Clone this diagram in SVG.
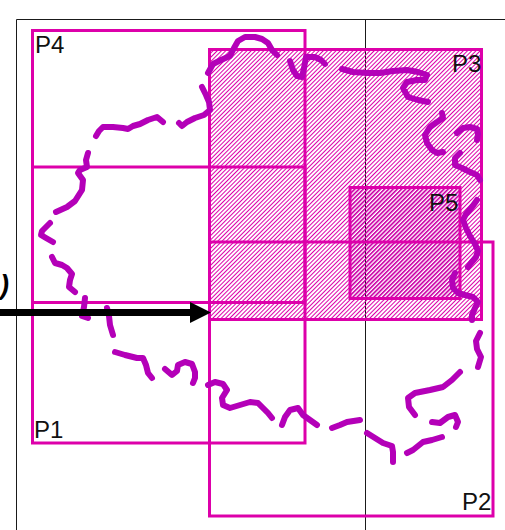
<svg xmlns="http://www.w3.org/2000/svg" width="505" height="530" viewBox="0 0 505 530">
  <defs>
    <pattern id="hatch" patternUnits="userSpaceOnUse" width="3" height="3" patternTransform="rotate(45)">
      <line x1="0.5" y1="0" x2="0.5" y2="3" stroke="#dd00aa" stroke-width="1"/>
    </pattern>
    <pattern id="hatch2" patternUnits="userSpaceOnUse" width="3" height="3" patternTransform="rotate(45)">
      <line x1="0.7" y1="0" x2="0.7" y2="3" stroke="#c800a6" stroke-width="1.4"/>
    </pattern>
    <marker id="arrow" markerUnits="userSpaceOnUse" markerWidth="22" markerHeight="22" refX="0" refY="11" orient="auto">
      <polygon points="0,0.5 21,11 0,21.5" fill="#000"/>
    </marker>
  </defs>
  <style>
    .frame { stroke: #1a1a1a; stroke-width: 1; fill: none; }
    .box { fill: none; stroke: #dd00aa; stroke-width: 3; }
    .lbl { font-family: "Liberation Sans", Arial, sans-serif; font-size: 24px; fill: #111; }
    .wig { fill: none; stroke: #b400b8; stroke-width: 6; stroke-linecap: round; stroke-linejoin: round; }
  </style>
  <rect width="505" height="530" fill="#fff"/>

  <g id="frame">
    <line class="frame" x1="16.5" y1="19.5" x2="505" y2="19.5"/>
    <line class="frame" x1="16.5" y1="19.5" x2="16.5" y2="530"/>
    <line class="frame" x1="365.5" y1="19.5" x2="365.5" y2="530"/>
  </g>

  <g id="P3">
    <rect x="209.5" y="49.5" width="272" height="270" fill="url(#hatch)"/>
    <rect class="box" x="209.5" y="49.5" width="272" height="270"/>
    <text class="lbl" x="452" y="72">P3</text>
  </g>
  <g id="P5">
    <rect x="350" y="187.5" width="110" height="111" fill="url(#hatch2)"/>
    <rect class="box" x="350" y="187.5" width="110" height="111"/>
    <text class="lbl" x="429" y="211">P5</text>
  </g>
  <g id="P4">
    <rect class="box" x="32.5" y="30.5" width="272.5" height="272"/>
    <text class="lbl" x="35" y="53">P4</text>
  </g>
  <g id="P1">
    <rect class="box" x="32.5" y="167" width="272.5" height="276"/>
    <text class="lbl" x="34" y="438">P1</text>
  </g>
  <g id="P2">
    <rect class="box" x="209.5" y="242" width="283.5" height="274"/>
    <text class="lbl" x="462" y="510">P2</text>
  </g>

  <g id="curve">
    <polyline class="wig" points="208,73 213,64 221,60 230,56 234,48 238,41 245,37 255,37 262,39 268,43 272,50 277,55"/>
    <polyline class="wig" points="290,61 293,70 297,76 302,77 304,68 306,57 315,57 321,60 325,64"/>
    <polyline class="wig" points="342,69 353,72 367,73 380,73 393,71 407,70 418,72 427,75 425,80 417,80 407,82 403,88 408,97 418,100 428,102"/>
    <polyline class="wig" points="442,113 443,118 437,122 430,127 425,135 427,143 432,150 437,153 443,152"/>
    <polyline class="wig" points="457,133 463,128 470,127 477,129 478,134 477,140"/>
    <polyline class="wig" points="460,153 455,158 455,165 462,168 470,172 477,175 480,180"/>
    <polyline class="wig" points="477,200 472,207 466,214 463,220 466,228 470,236 475,244 478,251 476,257 471,263 468,267"/>
    <polyline class="wig" points="455,273 452,280 453,288 458,293 465,295 473,297 478,302 475,308 472,315 472,320"/>
    <polyline class="wig" points="480,333 476,341 477,349 481,357 478,367"/>
    <polyline class="wig" points="460,372 452,380 443,387 430,390 415,393 408,398 409,407 415,415"/>
    <polyline class="wig" points="432,422 440,423 448,417 455,415 458,422 456,427"/>
    <polyline class="wig" points="407,453 413,450 423,442 432,440 442,437"/>
    <polyline class="wig" points="367,433 375,438 383,443 392,446 393,452 393,462"/>
    <polyline class="wig" points="332,428 340,425 347,422 360,420"/>
    <polyline class="wig" points="282,425 285,417 290,410 298,408 303,415 310,420 317,425"/>
    <polyline class="wig" points="208,385 215,382 223,384 227,390 222,398 223,405 230,408 240,405 250,402 258,403 263,408 268,413 272,418"/>
    <polyline class="wig" points="165,369 172,375 177,371 178,365 185,362 192,364 195,372 195,378 193,383"/>
    <polyline class="wig" points="115,352 125,355 137,358 143,358 146,365 148,373 152,378"/>
    <polyline class="wig" points="107,308 109,316 110,325 113,335"/>
    <polyline class="wig" points="85,298 84,307 82,316 88,318"/>
    <polyline class="wig" points="52,257 55,263 62,265 67,268 72,274 70,280 69,287 75,292"/>
    <polyline class="wig" points="50,223 42,231 41,235 46,238 53,242"/>
    <polyline class="wig" points="88,153 86,160 87,167 80,170 78,173 83,180 82,190 75,201 67,207 56,212"/>
    <polyline class="wig" points="163,122 157,117 148,120 140,124 133,126 128,129 123,128 113,127 103,127 99,131 96,136"/>
    <polyline class="wig" points="202,87 206,95 209,102 210,110 204,115 195,118 187,122 182,126 179,123"/>
  </g>

  <g id="connectors">
    <line x1="0" y1="312.5" x2="190" y2="312.5" stroke="#000" stroke-width="7" marker-end="url(#arrow)"/>
  </g>
  <text x="9" y="294" text-anchor="end" font-family="Liberation Sans, Arial, sans-serif" font-style="italic" font-weight="bold" font-size="27" fill="#000">)</text>
</svg>
